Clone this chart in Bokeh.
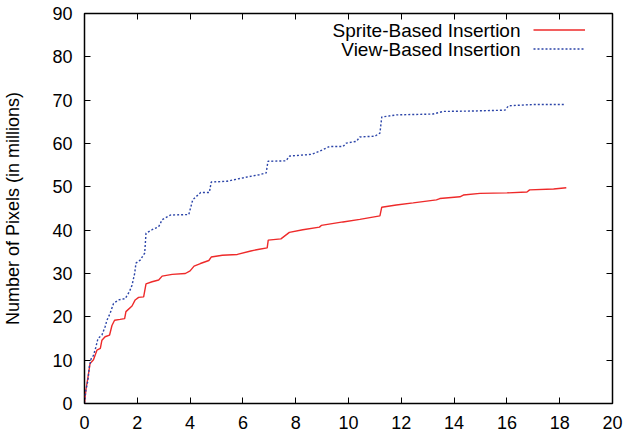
from bokeh.plotting import figure
from bokeh.models import (Range1d, LinearAxis, FixedTicker, Legend, LegendItem, Label,
                          CustomJSTickFormatter)
from bokeh.embed import file_html
from bokeh.resources import INLINE

# ---- data ----
sprite_x = [0, 0.05, 0.13, 0.21, 0.34, 0.47, 0.6, 0.66, 0.78, 0.95, 1.04, 1.14, 1.35, 1.52, 1.57,
            1.8, 1.92, 2.05, 2.24, 2.33, 2.56, 2.81, 2.94, 3.32, 3.82, 4.0, 4.15, 4.39, 4.71, 4.8,
            5.22, 5.79, 6.3, 6.62, 6.92, 6.96, 7.44, 7.76, 8.27, 8.9, 8.97, 9.79, 10.43, 10.81,
            11.19, 11.26, 11.81, 12.45, 13.33, 13.46, 14.22, 14.35, 14.98, 16.0, 16.76, 16.86,
            17.77, 18.25]
sprite_y = [0, 3, 6, 9.2, 10.1, 12.3, 12.7, 14.6, 15.4, 15.8, 18, 19.2, 19.4, 19.6, 21.2,
            22.5, 23.9, 24.5, 24.6, 27.6, 28.1, 28.5, 29.4, 29.8, 30, 30.6, 31.7, 32.3, 33, 33.8,
            34.2, 34.4, 35.2, 35.6, 35.9, 37.7, 38, 39.5, 40.1, 40.7, 41.1, 41.9, 42.5, 42.9,
            43.3, 45.3, 45.8, 46.3, 47, 47.3, 47.7, 48.1, 48.5, 48.6, 48.8, 49.3,
            49.5, 49.8]

view_x = [0, 0.05, 0.13, 0.18, 0.25, 0.34, 0.43, 0.51, 0.66, 0.78, 0.85, 0.97, 1.1, 1.29, 1.54,
          1.7, 1.8, 1.9, 1.95, 2.11, 2.28, 2.33, 2.56, 2.81, 2.94, 3.26, 3.95, 4.1, 4.4, 4.73,
          4.8, 5.4, 6.11, 6.62, 6.88, 6.95, 7.63, 7.77, 8.6, 8.9, 9.28, 9.79, 9.92, 10.3, 10.43,
          11.0, 11.19, 11.26, 11.81, 13.2, 13.59, 14.73, 15.93, 16.06, 17.01, 18.22]
view_y = [0, 3, 5.3, 8.4, 10.3, 11.1, 13, 15, 15.8, 17.7, 19.2, 20.8, 23.1, 23.9, 24.2,
          25.8, 27.3, 30, 32.4, 33.1, 34.7, 39.3, 40.1, 40.8, 42.4, 43.5, 43.6, 47, 48.7, 48.7,
          51.1, 51.3, 52.2, 52.8, 53.2, 55.9, 56, 57.1, 57.5, 58.2, 59.3, 59.3, 60.1, 60.5, 61.5,
          61.7, 62.4, 66.1, 66.6, 66.8, 67.4, 67.5, 67.7, 68.7, 69, 69]

series_names = ["Sprite-Based Insertion", "View-Based Insertion"]
x_ticks = list(range(0, 21, 2))
y_ticks = list(range(0, 91, 10))

FONT = "Liberation Sans"
RED = "#ee2a2a"
BLUE = "#2b44a8"

p = figure(width=626, height=433, output_backend="svg", toolbar_location=None,
           x_range=Range1d(0, 20), y_range=Range1d(0, 90),
           min_border_left=84, min_border_right=14, min_border_top=13, min_border_bottom=30,
           x_axis_location=None, y_axis_location=None)
p.grid.visible = False
p.outline_line_color = "black"
p.outline_line_width = 1.5
p.background_fill_color = "white"
p.border_fill_color = "white"

def make_axis(ticks, labels=True):
    ax = LinearAxis(ticker=FixedTicker(ticks=ticks))
    ax.major_tick_in = 6
    ax.major_tick_out = 0
    ax.minor_tick_in = 0
    ax.minor_tick_out = 0
    ax.major_tick_line_color = "black"
    ax.major_tick_line_width = 1
    ax.axis_line_color = None
    if labels:
        ax.major_label_text_font = FONT
        ax.major_label_text_font_size = "18px"
        ax.major_label_text_color = "black"
    else:
        ax.formatter = CustomJSTickFormatter(code="return '';")
        ax.major_label_standoff = 0
    return ax

xb = make_axis(x_ticks)
xb.major_label_standoff = 12
p.add_layout(xb, "below")
yl = make_axis(y_ticks)
yl.major_label_standoff = 12
yl.axis_label = "Number of Pixels (in millions)"
yl.axis_label_text_font = FONT
yl.axis_label_text_font_size = "18px"
yl.axis_label_text_font_style = "normal"
yl.axis_label_text_color = "black"
yl.axis_label_standoff = 26
p.add_layout(yl, "left")
p.add_layout(make_axis(x_ticks, labels=False), "above")
p.add_layout(make_axis(y_ticks, labels=False), "right")

r1 = p.line(sprite_x, sprite_y, line_color=RED, line_width=1.4)
r2 = p.line(view_x, view_y, line_color=BLUE, line_width=1.4, line_dash="2 2")

legend = Legend(items=[LegendItem(label=" ", renderers=[r1]),
                       LegendItem(label=" ", renderers=[r2])],
                location=(449, 345), orientation="vertical",
                glyph_width=52, glyph_height=19, label_height=19, label_width=0,
                label_standoff=0, label_text_font_size="1px", spacing=0, padding=0, margin=0,
                border_line_color=None, background_fill_alpha=0)
p.add_layout(legend, "center")

for i, name in enumerate(series_names):
    p.add_layout(Label(x=436, y=373 - 19 * i, x_units="screen", y_units="screen", text=name,
                       text_align="right", text_baseline="middle",
                       text_font=FONT, text_font_size="19px", text_color="black"))

open("out.html", "w").write(file_html(p, INLINE))
